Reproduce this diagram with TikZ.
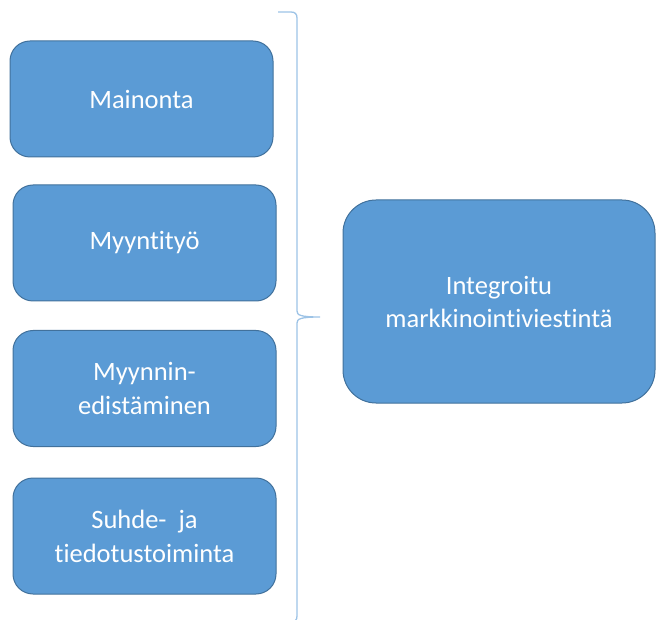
\documentclass[tikz,border=0pt]{standalone}
\usepackage{fontspec}
\setmainfont[RawFeature={-liga;-clig;-calt;-dlig}]{Carlito}
\usepackage{tikz}
\usetikzlibrary{positioning}
\usepackage{xcolor}
\definecolor{boxfill}{HTML}{5B9BD5}
\definecolor{boxline}{HTML}{41719C}
\definecolor{braceline}{HTML}{9DC3E6}

\begin{document}
\begin{tikzpicture}[x=1pt, y=-1pt,
  keino/.style={rectangle, rounded corners=20pt, draw=boxline, fill=boxfill,
    line width=1pt, minimum width=263pt, minimum height=116pt, align=center,
    text=white, font=\fontsize{26.5}{34}\selectfont},
  kokonaisuus/.style={rectangle, rounded corners=33pt, draw=boxline, fill=boxfill,
    line width=1pt, minimum width=312pt, minimum height=203pt, align=center,
    text=white, font=\fontsize{26.5}{33}\selectfont},
  sulku/.style={draw=braceline, line width=1.3pt},
]
\useasboundingbox (0,0) rectangle (656,620);
\node[keino] (mainonta) at (141.5,99) {Mainonta};
\node[keino] (myyntityo) at (144.5,243) {Myyntityö};
\node[keino] (edistaminen) at (144.5,388.5) {Myynnin-\\edistäminen};
\node[keino] (suhde) at (144.5,536) {Suhde-\ \ ja\\tiedotustoiminta};
\node[kokonaisuus] (imv) at (499,301.5) {Integroitu\\markkinointiviestintä};
% aaltosulku
\begin{scope}
\clip (0,0) rectangle (656,620);
\draw[sulku] (278,12) -- (291,12) .. controls (295,12) and (297,14) .. (297,18)
  -- (297,311) .. controls (297,315) and (300,317) .. (320,317)
  .. controls (300,317) and (297,319) .. (297,323)
  -- (297,616) .. controls (297,620) and (295,622) .. (291,622) -- (278,622);
\end{scope}
\end{tikzpicture}
\end{document}
